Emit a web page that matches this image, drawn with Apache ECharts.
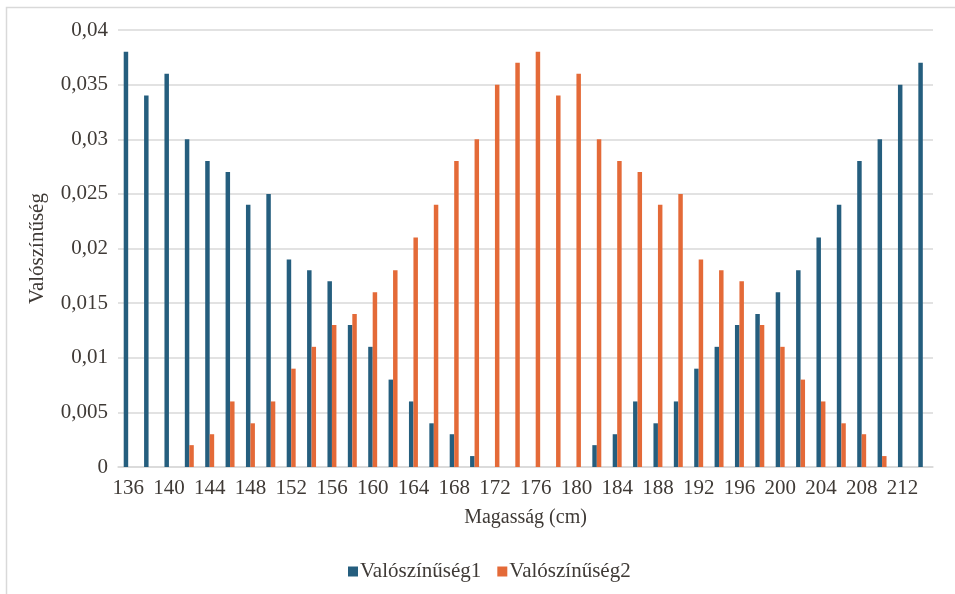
<!DOCTYPE html>
<html>
<head>
<meta charset="utf-8">
<script src="https://cdn.jsdelivr.net/npm/echarts@6/dist/echarts.min.js"></script>
<style>
  html, body { margin: 0; padding: 0; background: #fff; }
  #chart { width: 955px; height: 594px; }
</style>
</head>
<body>
<div id="chart"></div>
<script>
// Heights in cm, step 2
const heights = [136,138,140,142,144,146,148,150,152,154,156,158,160,162,164,166,168,170,172,174,
                 176,178,180,182,184,186,188,190,192,194,196,198,200,202,204,206,208,210,212,214];

const prob1 = [0.038,0.034,0.036,0.030,0.028,0.027,0.024,0.025,0.019,0.018,0.017,0.013,0.011,0.008,0.006,0.004,0.003,0.001,0,0,
               0,0,0,0.002,0.003,0.006,0.004,0.006,0.009,0.011,0.013,0.014,0.016,0.018,0.021,0.024,0.028,0.030,0.035,0.037];

const prob2 = [0,0,0,0.002,0.003,0.006,0.004,0.006,0.009,0.011,0.013,0.014,0.016,0.018,0.021,0.024,0.028,0.030,0.035,0.037,
               0.038,0.034,0.036,0.030,0.028,0.027,0.024,0.025,0.019,0.018,0.017,0.013,0.011,0.008,0.006,0.004,0.003,0.001,0,0];

const seriesNames = ['Valószínűség1', 'Valószínűség2'];
const yTicks = { min: 0, max: 0.04, step: 0.005 };

const FONT = 'Liberation Serif';
const TEXT = '#3f3a36';
const GRID = '#d9d9d9';

const chart = echarts.init(document.getElementById('chart'), null, { renderer: 'canvas' });

chart.setOption({
  backgroundColor: '#ffffff',
  animation: false,
  textStyle: { fontFamily: FONT, color: TEXT },
  graphic: [{
    type: 'rect',
    shape: { x: 6.5, y: 7.5, width: 1000, height: 1000 },
    style: { fill: 'none', stroke: GRID, lineWidth: 1.5 },
    silent: true,
    z: -1
  }],
  grid: { left: 118, right: 22, top: 30, bottom: 127 },
  legend: {
    data: seriesNames,
    bottom: 12,
    left: 348,
    padding: 0,
    itemWidth: 10,
    itemHeight: 10,
    itemGap: 16,
    icon: 'rect',
    textStyle: { fontFamily: FONT, fontSize: 21, color: TEXT, padding: [0, 0, 0, -3] }
  },
  xAxis: {
    type: 'category',
    data: heights,
    name: 'Magasság (cm)',
    nameLocation: 'middle',
    nameGap: 41,
    nameTextStyle: { fontFamily: FONT, fontSize: 20, color: TEXT },
    axisLine: { lineStyle: { color: GRID, width: 1.5 } },
    axisTick: { show: false },
    axisLabel: { interval: 1, margin: 11, fontFamily: FONT, fontSize: 21, color: TEXT }
  },
  yAxis: {
    type: 'value',
    min: yTicks.min,
    max: yTicks.max,
    interval: yTicks.step,
    name: 'Valószínűség',
    nameLocation: 'middle',
    nameGap: 70,
    nameTextStyle: { fontFamily: FONT, fontSize: 21, color: TEXT },
    axisLine: { show: false },
    axisTick: { show: false },
    splitLine: { lineStyle: { color: GRID, width: 1.5 } },
    axisLabel: {
      margin: 10,
      fontFamily: FONT,
      fontSize: 21,
      color: TEXT,
      formatter: v => String(+v.toFixed(3)).replace('.', ',')
    }
  },
  series: [
    {
      name: seriesNames[0],
      type: 'bar',
      data: prob1,
      barGap: '0%',
      barCategoryGap: '56%',
      itemStyle: { color: '#255e7e' }
    },
    {
      name: seriesNames[1],
      type: 'bar',
      data: prob2,
      barGap: '0%',
      barCategoryGap: '56%',
      itemStyle: { color: '#e46a38' }
    }
  ]
});
</script>
</body>
</html>
